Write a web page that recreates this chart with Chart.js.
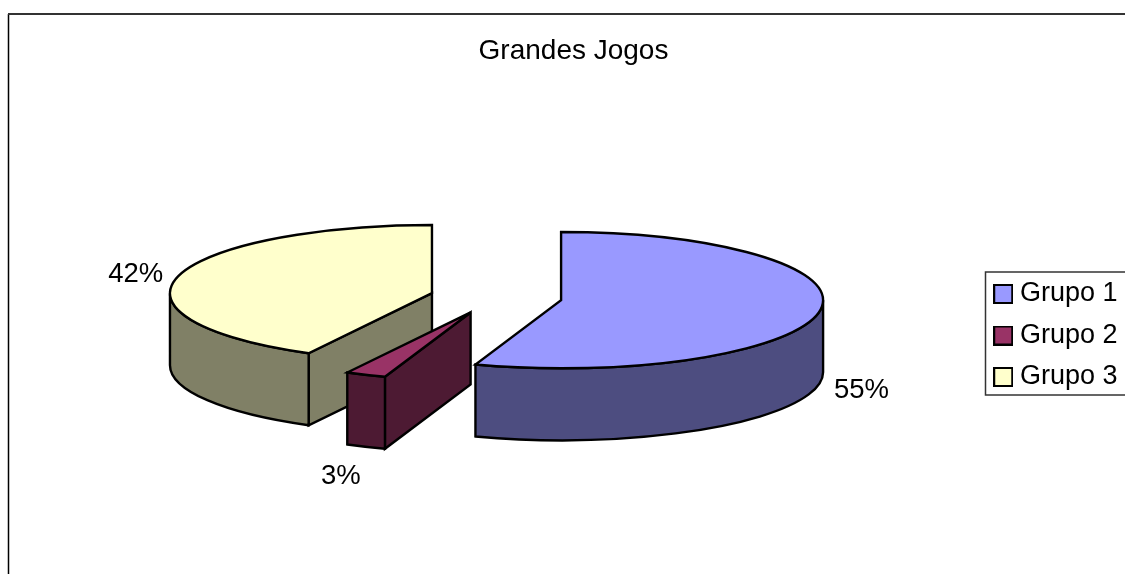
<!DOCTYPE html>
<html>
<head>
<meta charset="utf-8">
<style>html,body{margin:0;padding:0;background:#fff}canvas{display:block}</style>
<script src="https://cdn.jsdelivr.net/npm/chart.js@4/dist/chart.umd.min.js"></script>
</head>
<body>
<canvas id="c" width="1125" height="574"></canvas>
<script>
const chartTitle = 'Grandes Jogos';
const categories = ['Grupo 1', 'Grupo 2', 'Grupo 3'];
const shares = [55.3, 2.5, 42.2];
const sliceColors = ['#9999FF', '#993366', '#FFFFCC'];
const sliceExplode = [66, 63.5, 66];
const labelNudges = [[42, 79], [-25, 102], [-42, -2]];
const view = {cx: 496, cy: 297.3, squash: 0.26, depth: 72, radius: 262};
const FONT = '"Liberation Sans", Arial, sans-serif';
const LINE = 2.4;

Chart.defaults.font.family = FONT;
Chart.defaults.color = '#000';

function darker(hex) {
  const n = parseInt(hex.slice(1), 16);
  const c = [n >> 16, (n >> 8) & 255, n & 255].map(v => Math.round(v / 2));
  return `rgb(${c[0]},${c[1]},${c[2]})`;
}
function swatch(color) {
  const s = document.createElement('canvas');
  s.width = 20; s.height = 20;
  const g = s.getContext('2d');
  g.fillStyle = color; g.fillRect(1, 1, 18, 18);
  g.strokeStyle = '#000'; g.lineWidth = 2; g.strokeRect(1, 1, 18, 18);
  return s;
}
function place(arc) {
  const mid = (arc.startAngle + arc.endAngle) / 2;
  const ex = sliceExplode[arc.$index];
  return {
    x: view.cx + Math.cos(mid) * ex,
    y: view.cy + Math.sin(mid) * ex * view.squash,
    ry: arc.outerRadius * view.squash,
    mid
  };
}
function wall(ctx, arc, color) {
  const p = place(arc), R = arc.outerRadius, d = view.depth, TAU = Math.PI * 2;
  const s = arc.startAngle, e = arc.endAngle;
  ctx.fillStyle = color; ctx.strokeStyle = '#000'; ctx.lineWidth = LINE; ctx.lineJoin = 'miter';
  // cut face on the start edge, seen when the edge points towards the viewer's left
  if (Math.cos(s) < -1e-6) {
    const ex = p.x + Math.cos(s) * R, ey = p.y + Math.sin(s) * p.ry;
    ctx.beginPath();
    ctx.moveTo(p.x, p.y); ctx.lineTo(ex, ey); ctx.lineTo(ex, ey + d); ctx.lineTo(p.x, p.y + d);
    ctx.closePath(); ctx.fill(); ctx.stroke();
  }
  // outer curved wall: only the part in front
  for (let k = -1; k <= 1; k++) {
    const a = Math.max(s, k * TAU), b = Math.min(e, k * TAU + Math.PI);
    if (b > a) {
      ctx.beginPath();
      ctx.ellipse(p.x, p.y, R, p.ry, 0, a, b);
      ctx.ellipse(p.x, p.y + d, R, p.ry, 0, b, a, true);
      ctx.closePath(); ctx.fill(); ctx.stroke();
    }
  }
}
function top3d(ctx, arc) {
  const p = place(arc);
  ctx.save();
  ctx.translate(p.x, p.y);
  ctx.scale(1, view.squash);
  ctx.translate(-arc.x, -arc.y);
  arc.draw(ctx);
  ctx.restore();
  ctx.beginPath();
  ctx.moveTo(p.x, p.y);
  ctx.ellipse(p.x, p.y, arc.outerRadius, p.ry, 0, arc.startAngle, arc.endAngle);
  ctx.closePath();
  ctx.strokeStyle = '#000'; ctx.lineWidth = LINE; ctx.lineJoin = 'miter';
  ctx.stroke();
}
const pie3d = {
  id: 'pie3d',
  beforeDraw(chart) {
    const ctx = chart.ctx;
    ctx.save();
    ctx.fillStyle = '#fff'; ctx.fillRect(0, 0, chart.width, chart.height);
    ctx.strokeStyle = '#000'; ctx.lineWidth = 1.5;
    ctx.beginPath(); ctx.moveTo(8.5, 574); ctx.lineTo(8.5, 14); ctx.stroke();
    ctx.strokeStyle = '#333'; ctx.lineWidth = 2;
    ctx.beginPath(); ctx.moveTo(8, 14); ctx.lineTo(1125, 14); ctx.stroke();
    ctx.lineWidth = 1.5;
    ctx.strokeRect(985.5, 272, 150, 123);
    ctx.restore();
  },
  beforeDatasetDraw(chart, args) {
    const ctx = chart.ctx, arcs = args.meta.data;
    arcs.forEach((arc, i) => { arc.$index = i; });
    // back to front: the slice whose middle points most towards the viewer comes last
    const order = arcs.slice().sort((a, b) =>
      Math.sin((a.startAngle + a.endAngle) / 2) - Math.sin((b.startAngle + b.endAngle) / 2));
    ctx.save();
    order.forEach(arc => {
      wall(ctx, arc, darker(sliceColors[arc.$index]));
      top3d(ctx, arc);
    });
    const total = shares.reduce((a, b) => a + b, 0);
    ctx.fillStyle = '#000';
    ctx.font = `27.5px ${FONT}`;
    ctx.textAlign = 'center'; ctx.textBaseline = 'middle';
    arcs.forEach((arc, i) => {
      const p = place(arc);
      ctx.fillText(Math.round(shares[i] / total * 100) + '%',
        p.x + Math.cos(p.mid) * arc.outerRadius + labelNudges[i][0],
        p.y + Math.sin(p.mid) * p.ry + labelNudges[i][1]);
    });
    ctx.restore();
    return false;
  }
};

new Chart(document.getElementById('c'), {
  type: 'pie',
  data: {
    labels: categories,
    datasets: [{
      data: shares,
      backgroundColor: sliceColors,
      borderWidth: 0,
      hoverOffset: 0,
      clip: false
    }]
  },
  options: {
    responsive: false,
    animation: false,
    radius: view.radius,
    events: [],
    layout: {padding: {left: 19.5, right: -2.5, top: 0, bottom: 169}},
    plugins: {
      tooltip: {enabled: false},
      title: {
        display: true,
        text: chartTitle,
        color: '#000',
        font: {size: 28, weight: 'normal'},
        padding: {top: 34.5, bottom: 10}
      },
      legend: {
        position: 'right',
        align: 'end',
        labels: {
          font: {size: 27},
          color: '#000',
          usePointStyle: true,
          pointStyleWidth: 6.5,
          boxHeight: 18,
          padding: 14.5,
          generateLabels(chart) {
            return Chart.overrides.pie.plugins.legend.labels.generateLabels(chart)
              .map((item, i) => Object.assign(item, {pointStyle: swatch(sliceColors[i])}));
          }
        }
      }
    }
  },
  plugins: [pie3d]
});
</script>
</body>
</html>
